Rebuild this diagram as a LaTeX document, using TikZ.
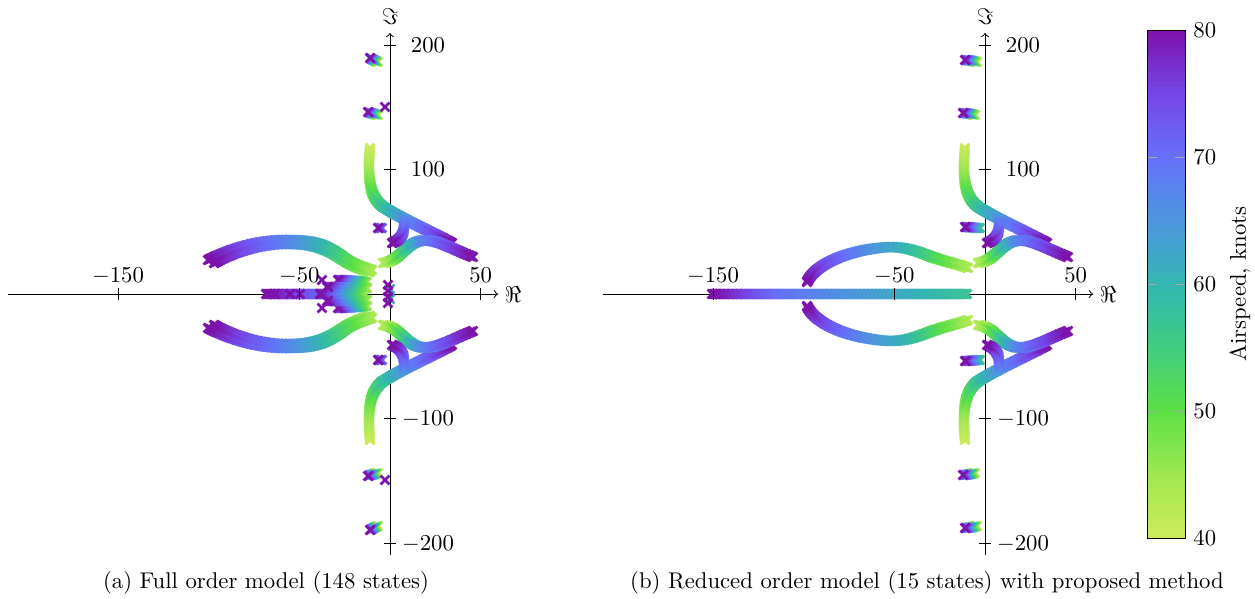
\documentclass[tikz,border=0pt]{standalone}
\definecolor{cmA}{RGB}{205,234,90}
\definecolor{cmB}{RGB}{160,232,82}
\definecolor{cmC}{RGB}{92,224,70}
\definecolor{cmD}{RGB}{66,204,128}
\definecolor{cmE}{RGB}{52,182,178}
\definecolor{cmF}{RGB}{76,150,222}
\definecolor{cmG}{RGB}{102,112,250}
\definecolor{cmH}{RGB}{118,70,232}
\definecolor{cmI}{RGB}{124,18,170}
\newcommand\setcmap[1]{%
  \pgfmathsetmacro\cmv{max(40,min(80,#1))}%
  \pgfmathtruncatemacro\cmseg{min(7,floor((\cmv-40)/5))}%
  \pgfmathtruncatemacro\cmpct{round(((\cmv-40)/5-\cmseg)*100)}%
  \ifcase\cmseg\relax \colorlet{cur}{cmB!\cmpct!cmA}%
  \or \colorlet{cur}{cmC!\cmpct!cmB}%
  \or \colorlet{cur}{cmD!\cmpct!cmC}%
  \or \colorlet{cur}{cmE!\cmpct!cmD}%
  \or \colorlet{cur}{cmF!\cmpct!cmE}%
  \or \colorlet{cur}{cmG!\cmpct!cmF}%
  \or \colorlet{cur}{cmH!\cmpct!cmG}%
  \else \colorlet{cur}{cmI!\cmpct!cmH}\fi}
\newcommand\xm[2]{\draw[cur,line width=1.2pt] (#1,#2) ++(-1.95pt,-1.95pt) -- ++(3.9pt,3.9pt) ++(-3.9pt,0pt) -- ++(3.9pt,-3.9pt);}
\newcommand\xmc[3]{\setcmap{#3}\xm{#1}{#2}}
\def\bzparse#1,#2,#3,#4,#5,#6,#7,#8\relax{\def\bxa{#1}\def\bya{#2}\def\bxb{#3}\def\byb{#4}\def\bxc{#5}\def\byc{#6}\def\bxd{#7}\def\byd{#8}}
\newcommand\bzdraw[2]{%
  \pgfmathsetmacro\bzlen{veclen((\bxb)-(\bxa),(\byb)-(\bya))+veclen((\bxc)-(\bxb),(\byc)-(\byb))+veclen((\bxd)-(\bxc),(\byd)-(\byc))}%
  \pgfmathtruncatemacro\bzn{max(2,round(\bzlen/1.3))}%
  \foreach \bzi in {0,...,\bzn}{%
    \pgfmathsetmacro\bzt{\bzi/\bzn}%
    \pgfmathsetmacro\bzu{1-\bzt}%
    \pgfmathsetmacro\bpx{\bzu*\bzu*\bzu*(\bxa)+3*\bzu*\bzu*\bzt*(\bxb)+3*\bzu*\bzt*\bzt*(\bxc)+\bzt*\bzt*\bzt*(\bxd)}%
    \pgfmathsetmacro\bpy{\bzsgn*(\bzu*\bzu*\bzu*(\bya)+3*\bzu*\bzu*\bzt*(\byb)+3*\bzu*\bzt*\bzt*(\byc)+\bzt*\bzt*\bzt*(\byd))}%
    \setcmap{#1+(#2-(#1))*\bzt}%
    \xm{\bpx}{\bpy}%
  }}
\newcommand\bz[3]{\bzparse#1\relax\def\bzsgn{1}\bzdraw{#2}{#3}}
\newcommand\bzs[3]{\bzparse#1\relax\def\bzsgn{1}\bzdraw{#2}{#3}\def\bzsgn{-1}\bzdraw{#2}{#3}}
\newcommand\rstruct{%
  \bzs{-20,146,-23,115,-20,98,-8,88}{40}{57}%
  \bzs{-8,88,8,77,40,63,62,51}{57}{80}%
  \bzs{-7,31,10,33,15,50,30,53}{42}{66}%
  \bzs{30,53,45,56,60,46,83,37}{66}{80}%
  \bzs{14,72,15,60,10,54,2,51}{68}{80}}
\newcommand\plotaxes[2]{%
  \draw[axl,->] ({#1-382},294) -- ({#1+108},294);
  \draw[axl,->] (#1,555) -- (#1,33);
  \node (#2re) at ({#1+123},295) {$\Re$};
  \node (#2im) at (#1,17) {$\Im$};
}
\newcommand\plotticks[2]{%
  \foreach \v [count=\k] in {-150,-50,50}{%
    \draw[axl] ({#1+\v*1.813},288) -- ({#1+\v*1.813},300);
    \node[anchor=base] (#2x\k) at ({#1+\v*1.813},282) {$\v$};}
  \foreach \v [count=\k] in {200,100,-100,-200}{%
    \draw[axl] ({#1-6},{294-\v*1.245}) -- ({#1+6},{294-\v*1.245});
    \node[anchor=base] (#2y\k) at ({#1+38},{294-\v*1.245+7}) {$\v$};}
}
\begin{document}
\begin{tikzpicture}[x=0.44pt,y=-0.44pt,axl/.style={black,line width=0.42pt},font=\fontsize{10}{12}\selectfont]
\useasboundingbox (0,0) rectangle (1255,598);
\fill[white] (0,0) rectangle (1255,598);
% ---------- left plot
\plotaxes{390}{L}
\begin{scope}[shift={(390,294)},x=0.44pt,y=0.44pt]
  \bzs{-18,24,-28,27,-38,30,-48,38}{44}{53}
  \bzs{-48,38,-62,48,-75,54,-100,54}{53}{66}
  \bzs{-100,54,-130,55,-160,45,-182,34}{66}{80}
  \bzs{-20,22,-30,25,-40,29,-50,36}{44}{53}
  \bzs{-50,36,-64,45,-77,50,-100,50}{53}{66}
  \bzs{-100,50,-128,51,-156,42,-176,31}{66}{80}
  \bz{-67,0,-85,0,-105,0,-124,0}{70}{80}
  \bzs{-23,12,-33,13,-43,14,-52,14}{45}{80}
  \bzs{-23,6,-36,7,-50,7,-63,7}{45}{80}
  \bz{-25,0,-40,0,-55,0,-70,0}{45}{80}
  \xmc{-68}{14}{80}\xmc{-68}{-14}{80}
  \xmc{-62}{7}{80}\xmc{-62}{-7}{80}
  \xmc{-90}{0}{80}\xmc{-100}{0}{80}\xmc{-115}{0}{80}
  \xmc{0}{5}{62}\xmc{0}{-5}{62}
  \xmc{-2}{9}{80}\xmc{-2}{-9}{80}\xmc{-2}{3}{80}\xmc{-2}{-3}{80}
  \bzs{-8,66,-9,66,-11,66,-12,66}{70}{80}
  \rstruct
  \bzs{-12,232,-15,233,-18,235,-20,236}{42}{80}
  \bzs{-12,179,-16,180,-19,181,-22,182}{42}{80}
  \xmc{-5}{187}{80}\xmc{-5}{-186}{80}
\end{scope}
\plotticks{390}{L}
\node[anchor=base] (capa) at (266,588) {(a) Full order model (148 states)};
% ---------- right plot
\plotaxes{985}{R}
\begin{scope}[shift={(985,294)},x=0.44pt,y=0.44pt]
  \bz{-18,0,-80,0,-150,0,-212,0}{57}{70}
  \bz{-212,0,-232,0,-252,0,-273,0}{70}{80}
  \bzs{-17,26,-28,30,-38,32,-50,36}{43}{51}
  \bzs{-50,36,-62,40,-75,47,-95,47}{51}{62}
  \bzs{-95,47,-135,45,-170,30,-178,12}{62}{80}
  \rstruct
  \bzs{-8,232,-12,233,-16,234,-20,234}{42}{80}
  \bzs{-10,179,-14,180,-18,181,-22,181}{42}{80}
  \bzs{-5,66,-10,66,-15,67,-20,67}{55}{80}
\end{scope}
\plotticks{985}{R}
\node[anchor=base] (capb) at (927,588) {(b) Reduced order model (15 states) with proposed method};
% ---------- colorbar
\foreach \k in {0,...,99}{%
  \setcmap{40+0.4*(\k+0.5)}%
  \fill[cur] (1147,{538-\k*5.08+0.3}) rectangle (1185,{538-(\k+1)*5.08-0.3});}
\foreach \v in {50,60,70}{%
  \draw[gray!70,line width=0.4pt] (1147,{538-(\v-40)*12.7}) -- (1157,{538-(\v-40)*12.7});
  \draw[gray!70,line width=0.4pt] (1175,{538-(\v-40)*12.7}) -- (1185,{538-(\v-40)*12.7});}
\draw[axl] (1147,30) rectangle (1185,538);
\foreach \v [count=\k] in {40,50,60,70,80}{%
  \node[anchor=west,inner sep=0pt] (cb\k) at (1193,{538-(\v-40)*12.7}) {$\v$};}
\node[rotate=90] (cblabel) at (1240,284) {Airspeed, knots};
\end{tikzpicture}
\end{document}
